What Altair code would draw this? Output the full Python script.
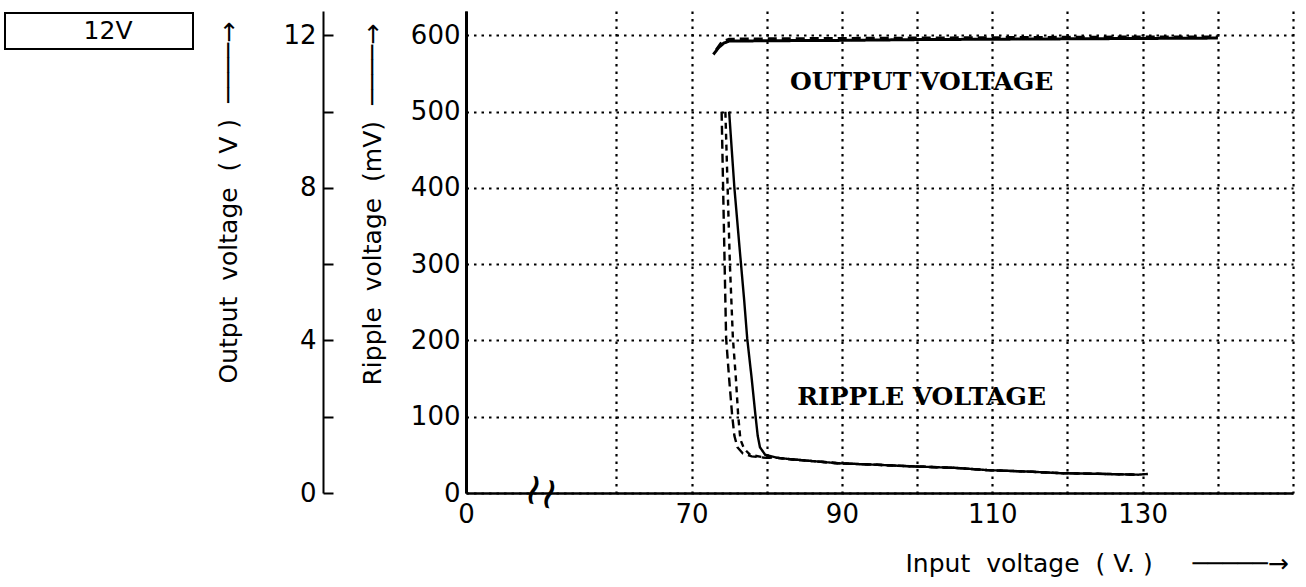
import altair as alt
import pandas as pd

# ---------------- data ----------------
# ripple voltage (mV) vs input voltage (V): three traces that merge at low ripple
tail_vin = [81.5, 83.5, 89.5, 94.7, 99.2, 105.0, 109.4, 115.0, 119.1, 125.0, 129.4, 130.7]
tail_mv = [46, 44, 39, 37, 35, 33, 30, 28, 26, 25, 24, 25]

rip_a_vin = [75.0, 75.7, 76.4, 77.0, 77.4, 78.0, 78.5, 78.8, 79.1, 79.8]
rip_a_mv = [500, 400, 320, 253, 203, 150, 102, 75, 60, 50]
rip_b_vin = [74.0, 74.2, 74.4, 74.6, 75.0, 75.4, 75.7, 76.1, 76.8, 78.0, 80.0]
rip_b_mv = [500, 400, 300, 203, 150, 102, 75, 60, 52, 48, 46]
rip_c_vin = [74.5, 74.8, 75.1, 75.5, 75.9, 76.2, 76.5, 77.0, 77.8, 79.5]
rip_c_mv = [500, 400, 300, 203, 150, 102, 70, 58, 50, 47]

# output voltage (V) vs input voltage (V)
out_a_vin = [72.9, 73.6, 74.3, 75.0, 80, 90, 100, 110, 120, 130, 140]
out_a_v = [11.50, 11.68, 11.80, 11.85, 11.86, 11.87, 11.89, 11.90, 11.91, 11.92, 11.93]
out_b_vin = [73.3, 74.0, 75.0, 80, 90, 100, 110, 120, 130, 140]
out_b_v = [11.62, 11.82, 11.90, 11.91, 11.92, 11.93, 11.94, 11.95, 11.96, 11.96]

x_ticks = [40, 60, 70, 80, 90, 100, 110, 120, 130, 140, 150]
ripple_ticks = [0, 100, 200, 300, 400, 500, 600]
out_ticks = [0, 2, 4, 6, 8, 10, 12]

note_text = ["OUTPUT VOLTAGE", "RIPPLE VOLTAGE"]
note_vin = [100.6, 100.6]
note_mv = [539, 126]

supply_label = ["12V"]

# ---------------- tables ----------------
rows = []
for name, xs, ys in [("A", rip_a_vin + tail_vin, rip_a_mv + tail_mv),
                     ("B", rip_b_vin + tail_vin[:-1], rip_b_mv + tail_mv[:-1]),
                     ("C", rip_c_vin + tail_vin[:-1], rip_c_mv + tail_mv[:-1])]:
    for a, b in zip(xs, ys):
        rows.append({"vin": a, "mv": b, "curve": name})
rip_df = pd.DataFrame(rows)

rows = []
for name, xs, ys in [("A", out_a_vin, out_a_v), ("B", out_b_vin, out_b_v)]:
    for a, b in zip(xs, ys):
        rows.append({"vin": a, "v": b, "curve": name, "supply": supply_label[0]})
out_df = pd.DataFrame(rows)

note_df = pd.DataFrame({"vin": note_vin, "mv": note_mv, "text": note_text})
brk_df = pd.DataFrame({"vin": [50.0], "mv": [0], "text": ["≀≀"]})

FONT = "DejaVu Sans"
xscale = alt.Scale(domain=[40, 150], nice=False, zero=False)
dash_scale = alt.Scale(domain=["A", "B", "C"], range=[[1, 0], [9, 5], [6, 5]])
NB = "\u00a0"
BL = "\u2800"
ARROW = "────→"

x_axis = alt.Axis(
    values=x_ticks,
    labelExpr="datum.value == 40 ? '0' : ((datum.value == 70 || datum.value == 90 || datum.value == 110 || datum.value == 130) ? datum.label : '')",
    ticks=False, grid=True, gridDash=[2.5, 5], gridWidth=2.2, gridColor="black", gridOpacity=1,
    domainColor="black", domainWidth=2.5, labelFontSize=26, labelColor="black", labelFont=FONT,
    labelPadding=8, labelFlush=False, labelOverlap=False,
    title="Input" + NB + NB + "voltage" + NB + NB + "(" + NB + "V." + NB + ")" + NB * 5 + "─────→",
    titleX=439, titleY=70, titleAlign="left", titleBaseline="middle",
    titleFontSize=25, titleFontWeight="normal", titleColor="black", titleFont=FONT,
)

ry_axis = alt.Axis(
    values=ripple_ticks, ticks=False, grid=True, gridDash=[2.5, 5], gridWidth=2.2, gridColor="black",
    gridOpacity=1, domainColor="black", domainWidth=3, labelFontSize=26, labelColor="black",
    labelFont=FONT, labelPadding=6, labelOverlap=False, labelFlush=False,
    title="Ripple" + NB + NB + "voltage" + NB + NB + "(mV)" + NB * 2 + ARROW,
    titleAngle=270, titleX=-94, titleY=374, titleAlign="left", titleBaseline="middle",
    titleFontSize=25, titleFontWeight="normal", titleColor="black", titleFont=FONT,
)

oy_axis = alt.Axis(
    orient="right", offset=-970, values=out_ticks,
    labelExpr="datum.value % 4 == 0 ? datum.label : ''",
    ticks=True, tickSize=10, tickWidth=2, tickColor="black", grid=False,
    domainColor="black", domainWidth=2, labelFontSize=26, labelColor="black", labelFont=FONT,
    labelAlign="right", labelPadding=-17, labelOverlap=False, labelFlush=False,
    title="Output" + NB + NB + "voltage" + NB + NB + "(" + NB + "V" + NB + ")" + NB * 2 + ARROW,
    titleAngle=270, titleX=-95, titleY=372, titleAlign="left", titleBaseline="middle",
    titleFontSize=25, titleFontWeight="normal", titleColor="black", titleFont=FONT,
)

ripple = alt.Chart(rip_df).mark_line(color="black", strokeWidth=2.4).encode(
    x=alt.X("vin:Q", scale=xscale, axis=x_axis),
    y=alt.Y("mv:Q", scale=alt.Scale(domain=[0, 632], nice=False), axis=ry_axis),
    strokeDash=alt.StrokeDash("curve:N", scale=dash_scale, legend=None),
    detail="curve:N",
)

legend = alt.Legend(
    title=None, orient="none", legendX=-461, legendY=2,
    labelExpr="'" + BL * 2 + "' + datum.label + '" + BL * 3 + "'",
    labelFontSize=25, labelFont=FONT, labelColor="black", labelLimit=400,
    symbolSize=0, symbolOpacity=0, symbolStrokeWidth=0, labelOffset=12,
    strokeColor="black", padding=5,
)

output = alt.Chart(out_df).mark_line(strokeWidth=3).encode(
    x=alt.X("vin:Q", scale=xscale, axis=x_axis),
    y=alt.Y("v:Q", scale=alt.Scale(domain=[0, 12.64], nice=False), axis=oy_axis),
    strokeDash=alt.StrokeDash("curve:N", scale=dash_scale, legend=None),
    color=alt.Color("supply:N", scale=alt.Scale(range=["black"]), legend=legend),
    detail="curve:N",
)

notes = alt.Chart(note_df).mark_text(
    font="DejaVu Serif", fontWeight="bold", fontSize=25, color="black",
    align="center", baseline="middle",
).encode(
    x=alt.X("vin:Q", scale=xscale, axis=x_axis),
    y=alt.Y("mv:Q", scale=alt.Scale(domain=[0, 632], nice=False), axis=None),
    text="text:N",
)

brk = alt.Chart(brk_df).mark_text(
    font=FONT, fontSize=44, color="black", align="center", baseline="middle", angle=15,
).encode(
    x=alt.X("vin:Q", scale=xscale, axis=x_axis),
    y=alt.Y("mv:Q", scale=alt.Scale(domain=[0, 632], nice=False), axis=None),
    text="text:N",
)

chart = alt.layer(ripple, output, notes, brk).resolve_scale(
    y="independent"
).properties(
    width=827, height=482,
    autosize=alt.AutoSizeParams(type="none"),
    padding={"left": 466, "top": 11, "right": 13, "bottom": 94},
    background="white",
).configure_view(stroke=None).configure_legend(strokeWidth=2)

chart.save("out.html", embed_options={"renderer": "svg", "actions": False})
